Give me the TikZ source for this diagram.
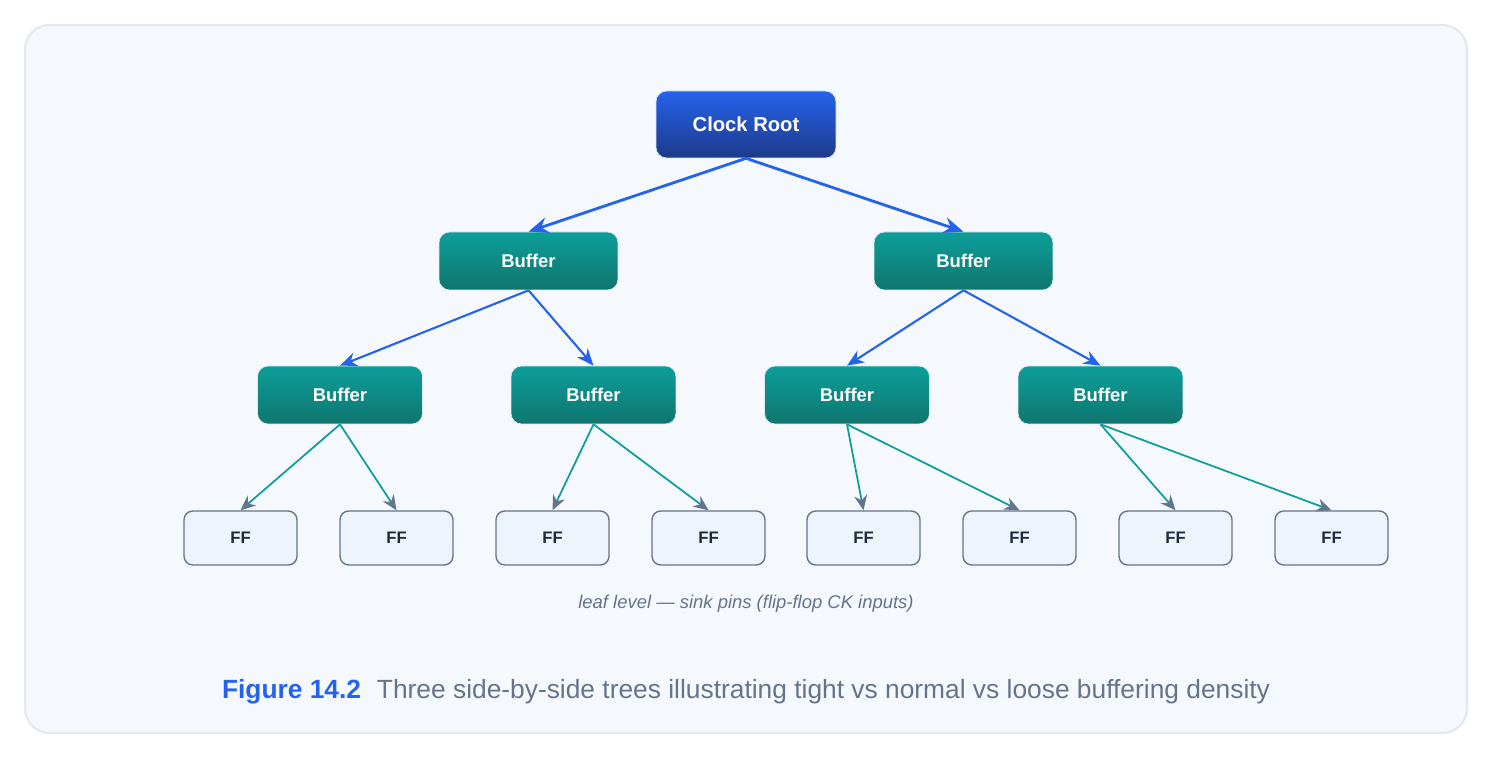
\documentclass[tikz,border=0pt]{standalone}
\usepackage{fontspec}
\setmainfont{Liberation Sans}
\usetikzlibrary{arrows.meta,positioning}
\definecolor{rootblue}{HTML}{2563EB}
\definecolor{rootdark}{HTML}{1E3A8A}
\definecolor{bufteal}{HTML}{0D9E9A}
\definecolor{bufdark}{HTML}{0F766E}
\definecolor{ffborder}{HTML}{64748B}
\definecolor{fffill}{HTML}{EEF4FB}
\definecolor{panelfill}{HTML}{F5F9FE}
\definecolor{panelborder}{HTML}{E2E8F0}
\definecolor{textgray}{HTML}{64748B}
\definecolor{fftext}{HTML}{1E293B}
\tikzset{
    rootnode/.style={rounded corners=6pt, draw=panelborder, top color=rootblue, bottom color=rootdark,
        minimum width=3.6cm, minimum height=1.34cm, font=\bfseries\fontsize{11.5}{13}\selectfont, text=white},
    bufnode/.style={rounded corners=6pt, draw=panelborder, top color=bufteal, bottom color=bufdark,
        minimum height=1.16cm, font=\bfseries\fontsize{10.5}{12}\selectfont, text=white},
    ffnode/.style={rounded corners=5pt, draw=ffborder, thick, fill=fffill,
        minimum width=2.26cm, minimum height=1.08cm, font=\bfseries\fontsize{9.5}{11}\selectfont, text=fftext},
    treearrow/.style={rootblue, line width=1.6pt, -{Stealth[length=4mm,width=3.2mm]}},
    subarrow/.style={rootblue, line width=1.2pt, -{Stealth[length=3.4mm,width=2.8mm]}},
    leafarrow/.style={bufteal, line width=1pt, -{Stealth[length=3mm,width=2.6mm,fill=ffborder,color=ffborder]}}
}
\begin{document}
\begin{tikzpicture}[x=0.02cm, y=-0.02cm]
    \useasboundingbox (0,0) rectangle (1494,759);
    % Panel
    \draw[panelborder, line width=1.2pt, fill=panelfill, rounded corners=14pt] (25,25) rectangle (1467,733);

    % Root and buffers
    \node[rootnode] (root) at (746,124.5) {Clock Root};
    \node[bufnode, minimum width=3.58cm] (bl) at (528.5,261) {Buffer};
    \node[bufnode, minimum width=3.58cm] (br) at (963.5,261) {Buffer};
    \foreach \n/\x in {bll/340, blr/593.5, brl/847, brr/1100.5} {
        \node[bufnode, minimum width=3.3cm] (\n) at (\x,395) {Buffer};
    }

    % Flip-flops
    \foreach \i/\x in {1/240.5, 2/396.5, 3/552.5, 4/708.5, 5/863.5, 6/1019.5, 7/1175.5, 8/1331.5} {
        \node[ffnode] (ff\i) at (\x,538) {FF};
    }

    % Connectors
    \draw[treearrow] (root.south) -- (bl.north);
    \draw[treearrow] (root.south) -- (br.north);
    \draw[subarrow] (bl.south) -- (bll.north);
    \draw[subarrow] (bl.south) -- (blr.north);
    \draw[subarrow] (br.south) -- (brl.north);
    \draw[subarrow] (br.south) -- (brr.north);
    \foreach \b/\l/\r in {bll/1/2, blr/3/4, brl/5/6, brr/7/8} {
        \draw[leafarrow] (\b.south) -- (ff\l.north);
        \draw[leafarrow] (\b.south) -- (ff\r.north);
    }

    % Notes
    \node[font=\itshape\fontsize{10.5}{12}\selectfont, text=textgray] (note) at (746,604) {leaf level — sink pins (flip-flop CK inputs)};
    \node[font=\fontsize{15}{18}\selectfont, text=textgray] (caption) at (746,692)
        {\textcolor{rootblue}{\bfseries Figure 14.2}\hspace{0.6em}Three side-by-side trees illustrating tight vs normal vs loose buffering density};
\end{tikzpicture}
\end{document}
